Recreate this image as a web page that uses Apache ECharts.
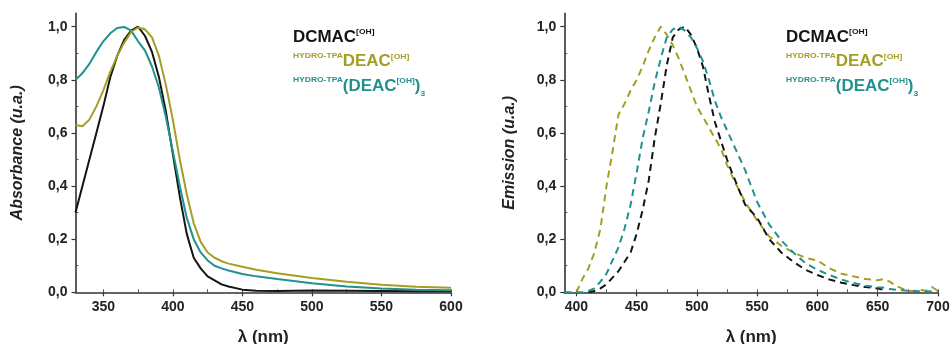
<!DOCTYPE html>
<html><head><meta charset="utf-8">
<script src="https://cdn.jsdelivr.net/npm/echarts@6/dist/echarts.min.js"></script>
<style>html,body{margin:0;padding:0;background:#fff}#c{width:952px;height:344px}</style>
</head><body><div id="c"></div>
<script>
// ---- Absorbance (left panel) ----
const absNm     = [330,335,340,345,350,355,360,365,370,375,380,385,390,395,400,405,410,415,420,425,430,435,440,450,460,475,500,525,550,575,600];
const absDCMAC  = [0.30,0.40,0.50,0.60,0.70,0.81,0.89,0.95,0.985,1.0,0.965,0.905,0.81,0.68,0.52,0.36,0.22,0.13,0.09,0.06,0.045,0.03,0.022,0.01,0.006,0.005,0.007,0.006,0.005,0.004,0.004];
const absDEAC   = [0.63,0.625,0.65,0.70,0.76,0.83,0.89,0.94,0.98,0.997,0.99,0.96,0.89,0.78,0.65,0.50,0.37,0.26,0.19,0.15,0.13,0.117,0.108,0.096,0.085,0.072,0.054,0.04,0.028,0.021,0.017];
const absDEAC3  = [0.80,0.825,0.86,0.905,0.945,0.975,0.995,0.999,0.985,0.945,0.91,0.85,0.77,0.66,0.53,0.40,0.28,0.20,0.15,0.12,0.10,0.09,0.082,0.069,0.06,0.05,0.034,0.022,0.014,0.01,0.008];

// ---- Emission (right panel) ----
const emNm      = [390,395,400,405,410,415,420,425,430,435,440,445,450,455,460,465,470,475,480,485,490,495,500,505,510,515,520,525,530,540,550,560,570,580,590,600,610,620,630,640,650,655,660,665,670,675,680,685,690,695,700];
const emDCMAC   = [null,null,null,null,0,0.005,0.015,0.03,0.055,0.08,0.115,0.15,0.22,0.31,0.42,0.58,0.71,0.855,0.96,0.99,1.0,0.97,0.92,0.85,0.74,0.64,0.57,0.50,0.44,0.33,0.28,0.20,0.15,0.115,0.085,0.065,0.048,0.036,0.027,0.02,0.014,0.01,null,null,null,null,null,null,null,null,null];
const emDEAC    = [null,null,0,0.05,0.09,0.15,0.24,0.40,0.53,0.67,0.71,0.76,0.80,0.85,0.91,0.96,1.0,0.97,0.93,0.88,0.82,0.76,0.70,0.66,0.62,0.58,0.54,0.48,0.43,0.34,0.27,0.21,0.175,0.15,0.13,0.12,0.09,0.07,0.06,0.05,0.045,0.05,0.04,0.025,0.015,0.005,0.005,0.01,0.005,0.02,0.005];
const emDEAC3   = [0,0,0,0,0.005,0.015,0.04,0.07,0.12,0.17,0.24,0.33,0.45,0.58,0.68,0.79,0.88,0.96,0.99,1.0,0.985,0.96,0.92,0.87,0.80,0.72,0.66,0.61,0.56,0.46,0.34,0.255,0.195,0.15,0.11,0.085,0.065,0.048,0.035,0.025,0.019,0.017,0.012,0.01,0.008,0.006,0.005,0.004,0.004,0.003,0.003];

// ---- ticks ----
const absXTicks = [350,400,450,500,550,600];
const absXMinor = [350,375,400,425,450,475,500,525,550,575,600];
const emXTicks  = [400,450,500,550,600,650,700];
const emXMinor  = [400,425,450,475,500,525,550,575,600,625,650,675,700];
const yTicks    = [0,0.2,0.4,0.6,0.8,1.0];
const yMinor    = [0.1,0.3,0.5,0.7,0.9];

const C_BLACK = '#141414', C_OLIVE = '#a39e26', C_TEAL = '#22908f';
const FONT = '"Liberation Sans", Arial, sans-serif';

const pairs = (xs, ys) => xs.map((x, i) => [x, ys[i]]);
const fmtY = v => v.toFixed(1).replace('.', ',');

function mainX(gi, min, max, ticks) {
  return {
    type: 'value', gridIndex: gi, min: min, max: max,
    name: 'λ (nm)', nameLocation: 'middle', nameGap: 37,
    nameTextStyle: {fontFamily: FONT, fontWeight: 'bold', fontSize: 17, color: '#222'},
    axisLine: {onZero: false, lineStyle: {color: '#333', width: 1.6}},
    axisTick: {show: true, length: 4, inside: false, customValues: ticks, lineStyle: {color: '#333', width: 1.2}},
    axisLabel: {customValues: ticks, margin: 8, fontFamily: FONT, fontWeight: 'bold', fontSize: 14, color: '#222'},
    splitLine: {show: false}
  };
}
function minorX(gi, min, max, ticks) {
  return {
    type: 'value', gridIndex: gi, min: min, max: max, position: 'bottom',
    axisLine: {show: false, onZero: false},
    axisTick: {show: true, inside: true, length: 3, customValues: ticks, lineStyle: {color: '#555', width: 1}},
    axisLabel: {show: false}, splitLine: {show: false}
  };
}
function mainY(gi, name, gap) {
  return {
    type: 'value', gridIndex: gi, min: 0, max: 1.05,
    name: name, nameLocation: 'middle', nameGap: gap, nameRotate: 90,
    nameTextStyle: {fontFamily: FONT, fontWeight: 'bold', fontStyle: 'italic', fontSize: 16, color: '#222'},
    axisLine: {show: true, onZero: false, lineStyle: {color: '#333', width: 1.6}},
    axisTick: {show: true, length: 4, inside: false, customValues: yTicks, lineStyle: {color: '#333', width: 1.2}},
    axisLabel: {customValues: yTicks, margin: 8, formatter: fmtY, fontFamily: FONT, fontWeight: 'bold', fontSize: 14, color: '#222'},
    splitLine: {show: false}
  };
}
function minorY(gi) {
  return {
    type: 'value', gridIndex: gi, min: 0, max: 1.05, position: 'left',
    axisLine: {show: false, onZero: false},
    axisTick: {show: true, inside: true, length: 3, customValues: yMinor, lineStyle: {color: '#555', width: 1}},
    axisLabel: {show: false}, splitLine: {show: false}
  };
}

function legend(x0) {
  const big = (c, pad) => ({fontFamily: FONT, fontWeight: 'bold', fontSize: 16, fill: c, color: c, verticalAlign: 'top', padding: [pad, 0, 0, 0]});
  const small = (c, pad) => ({fontFamily: FONT, fontWeight: 'bold', fontSize: 8, fill: c, color: c, verticalAlign: 'top', padding: [pad, 0, 0, 0]});
  return {
    type: 'group', x: x0, y: 0, scaleX: 1.06,
    children: [
      {type: 'text', x: 0, y: 26, style: {text: '{b|DCMAC}{s|[OH]}', verticalAlign: 'top', fill: C_BLACK,
        rich: {b: big(C_BLACK, 3.5), s: small(C_BLACK, 1.5)}}},
      {type: 'text', x: 0, y: 48, style: {text: '{h|HYDRO-TPA}{b|DEAC}{s|[OH]}', verticalAlign: 'top', fill: C_OLIVE,
        rich: {h: small(C_OLIVE, 4), b: big(C_OLIVE, 6), s: small(C_OLIVE, 5)}}},
      {type: 'text', x: 0, y: 70, style: {text: '{h|HYDRO-TPA}{b|(DEAC}{s|[OH]}{b|)}{u|3}', verticalAlign: 'top', fill: C_TEAL,
        rich: {h: small(C_TEAL, 5.5), b: big(C_TEAL, 8.5), s: small(C_TEAL, 7), u: small(C_TEAL, 19.5)}}}
    ]
  };
}

const solid = (name, xs, ys, color, xi, yi) => ({
  name: name, type: 'line', xAxisIndex: xi, yAxisIndex: yi, data: pairs(xs, ys),
  showSymbol: false, smooth: false,
  lineStyle: {color: color, width: 2}, itemStyle: {color: color}
});
const dashed = (name, xs, ys, color, xi, yi) => ({
  name: name, type: 'line', xAxisIndex: xi, yAxisIndex: yi, data: pairs(xs, ys),
  showSymbol: false, smooth: false,
  lineStyle: {color: color, width: 2, type: [7, 5]}, itemStyle: {color: color}
});

const chart = echarts.init(document.getElementById('c'), null, {renderer: 'canvas'});
chart.setOption({
  animation: false,
  backgroundColor: '#ffffff',
  grid: [
    {left: 75.5, right: 501, top: 13.4, bottom: 51.7, containLabel: false, outerBoundsMode: 'none'},
    {left: 564.3, right: 14, top: 13.4, bottom: 51.7, containLabel: false, outerBoundsMode: 'none'}
  ],
  xAxis: [
    mainX(0, 330, 600, absXTicks),
    mainX(1, 390, 700, emXTicks),
    minorX(0, 330, 600, absXMinor),
    minorX(1, 390, 700, emXMinor)
  ],
  yAxis: [
    mainY(0, 'Absorbance (u.a.)', 50),
    mainY(1, 'Emission (u.a.)', 47),
    minorY(0),
    minorY(1)
  ],
  series: [
    solid('DCMAC[OH]', absNm, absDCMAC, C_BLACK, 0, 0),
    solid('HYDRO-TPA (DEAC[OH])3', absNm, absDEAC3, C_TEAL, 0, 0),
    solid('HYDRO-TPA DEAC[OH]', absNm, absDEAC, C_OLIVE, 0, 0),
    dashed('HYDRO-TPA DEAC[OH]', emNm, emDEAC, C_OLIVE, 1, 1),
    dashed('DCMAC[OH]', emNm, emDCMAC, C_BLACK, 1, 1),
    dashed('HYDRO-TPA (DEAC[OH])3', emNm, emDEAC3, C_TEAL, 1, 1)
  ],
  graphic: [legend(293), legend(786)]
});
</script>
</body></html>
